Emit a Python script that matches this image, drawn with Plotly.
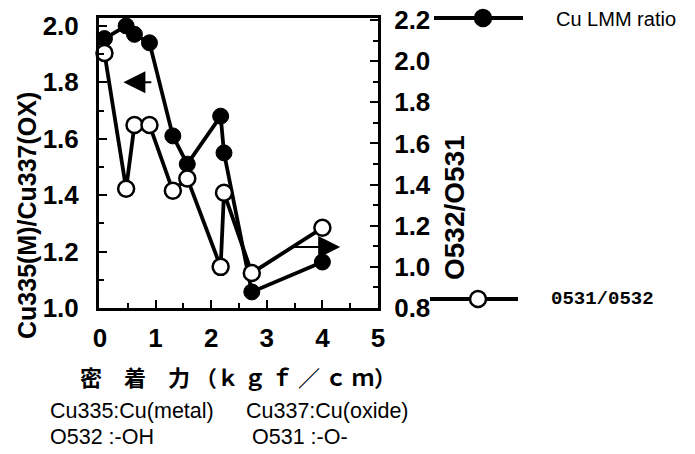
import plotly.graph_objects as go

# Adhesion strength (kgf/cm) for each sample
adhesion = [0.08, 0.47, 0.62, 0.89, 1.31, 1.57, 2.17, 2.23, 2.73, 4.0]
# Cu LMM ratio: Cu335(M)/Cu337(OX)  (left axis)
cu_ratio = [1.955, 2.0, 1.97, 1.94, 1.61, 1.51, 1.68, 1.55, 1.057, 1.163]
# Oxygen ratio: O532/O531  (right axis)
o_ratio = [2.04, 1.38, 1.69, 1.69, 1.37, 1.43, 1.0, 1.36, 0.97, 1.19]

x_ticks = [0, 1, 2, 3, 4, 5]
left_ticks = [1.0, 1.2, 1.4, 1.6, 1.8, 2.0]
right_ticks = [0.8, 1.0, 1.2, 1.4, 1.6, 1.8, 2.0, 2.2]

W, H = 695, 454
PX0, PX1, PY0, PY1 = 99, 378, 18, 308  # plot frame in pixels

FONT = "Liberation Sans, Arial, sans-serif"
LINE_W = 3.8
MARK = 16

fig = go.Figure()

fig.add_trace(go.Scatter(
    x=adhesion, y=cu_ratio, mode="lines+markers", xaxis="x", yaxis="y",
    line=dict(color="black", width=LINE_W),
    marker=dict(size=MARK, color="black", line=dict(color="black", width=1)),
    showlegend=False, cliponaxis=False,
))
fig.add_trace(go.Scatter(
    x=adhesion, y=o_ratio, mode="lines+markers", xaxis="x", yaxis="y2",
    line=dict(color="black", width=LINE_W),
    marker=dict(size=MARK, color="white", line=dict(color="black", width=2.5)),
    showlegend=False, cliponaxis=False,
))

# Legend samples drawn on a full-figure pixel axis
legend_rows = [
    dict(x=[434, 523], y=[18, 18], mx=483, fill="black"),
    dict(x=[430, 518], y=[299, 299], mx=478, fill="white"),
]
for row in legend_rows:
    fig.add_trace(go.Scatter(
        x=row["x"], y=row["y"], mode="lines", xaxis="x3", yaxis="y3",
        line=dict(color="black", width=4), showlegend=False,
    ))
    fig.add_trace(go.Scatter(
        x=[row["mx"]], y=[row["y"][0]], mode="markers", xaxis="x3", yaxis="y3",
        marker=dict(size=MARK, color=row["fill"], line=dict(color="black", width=2.5)),
        showlegend=False,
    ))

axis_common = dict(
    showline=True, linecolor="black", linewidth=3, showgrid=False, zeroline=False,
    ticks="inside", tickcolor="black", tickwidth=2, ticklen=8, automargin=False,
    tickfont=dict(family=FONT, size=26, color="black", weight="bold"),
)

fig.update_layout(
    width=W, height=H,
    margin=dict(l=0, r=0, t=0, b=0, autoexpand=False),
    paper_bgcolor="white", plot_bgcolor="rgba(0,0,0,0)",
    xaxis=dict(
        domain=[PX0 / W, PX1 / W], range=[-0.018, 5.0], anchor="y",
        tickvals=x_ticks, mirror=True, ticklabelstandoff=5,
        minor=dict(ticks="inside", dtick=0.5, ticklen=5, tickwidth=2, tickcolor="black"),
        **axis_common,
    ),
    yaxis=dict(
        domain=[1 - PY1 / H, 1 - PY0 / H], range=[1.0, 2.028], anchor="x",
        tickvals=left_ticks, tickformat=".1f", ticklabelstandoff=12,
        minor=dict(ticks="inside", dtick=0.1, ticklen=5, tickwidth=2, tickcolor="black"),
        **axis_common,
    ),
    yaxis2=dict(
        domain=[1 - PY1 / H, 1 - PY0 / H], range=[0.8, 2.21], anchor="x",
        overlaying="y", side="right",
        tickvals=right_ticks, tickformat=".1f", ticklabelstandoff=8,
        minor=dict(ticks="inside", dtick=0.1, ticklen=5, tickwidth=2, tickcolor="black"),
        **axis_common,
    ),
    xaxis3=dict(domain=[0, 1], range=[0, W], anchor="y3", visible=False,
                fixedrange=True, automargin=False),
    yaxis3=dict(domain=[0, 1], range=[H, 0], anchor="x3", visible=False,
                fixedrange=True, automargin=False),
)

# Direction arrows pointing to each series' axis
fig.add_annotation(x=0.42, y=1.80, ax=0.95, ay=1.80, xref="x", yref="y", axref="x", ayref="y",
                   showarrow=True, arrowhead=2, arrowsize=2.2, arrowwidth=2, arrowcolor="black", text="")
fig.add_annotation(x=4.32, y=1.216, ax=3.42, ay=1.216, xref="x", yref="y", axref="x", ayref="y",
                   showarrow=True, arrowhead=2, arrowsize=2.2, arrowwidth=2, arrowcolor="black", text="")

def label(text, x, y, size, xanchor="center", angle=0, family=FONT, weight="normal"):
    fig.add_annotation(x=x, y=y, xref="x3", yref="y3", text=text, showarrow=False,
                       xanchor=xanchor, yanchor="middle", textangle=angle,
                       font=dict(family=family, size=size, color="black", weight=weight))

label("Cu335(M)/Cu337(OX)", 27, 216, 25, angle=-90, weight="bold")
label("O532/O531", 454, 208, 28, angle=-90, weight="bold")
label("密　着　力 （ｋ ｇ ｆ ／ ｃ ｍ）", 238, 376, 22, family="Noto Sans CJK JP", weight="bold")
label("Cu335:Cu(metal)", 48, 411, 21.5, xanchor="left")
label("Cu337:Cu(oxide)", 244, 411, 21.5, xanchor="left")
label("O532 :-OH", 48, 437, 21.5, xanchor="left")
label("O531 :-O-", 250, 437, 21.5, xanchor="left")
label("Cu LMM ratio", 554, 19, 20, xanchor="left")
label("0531/0532", 549, 299, 19, xanchor="left",
      family="Liberation Mono, DejaVu Sans Mono, monospace", weight="bold")

fig.write_html("out.html")
